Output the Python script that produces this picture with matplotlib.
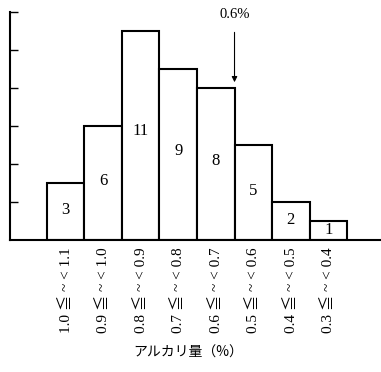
import matplotlib
matplotlib.use('Agg')
from matplotlib import pyplot as plt
import numpy as np

# Datos del histograma (número de muestras por intervalo de alcalinidad)
intervalos = ['1.0 ≦ ~ < 1.1', '0.9 ≦ ~ < 1.0', '0.8 ≦ ~ < 0.9', '0.7 ≦ ~ < 0.8',
              '0.6 ≦ ~ < 0.7', '0.5 ≦ ~ < 0.6', '0.4 ≦ ~ < 0.5', '0.3 ≦ ~ < 0.4']
frecuencias = [3, 6, 11, 9, 8, 5, 2, 1]
marca_valor = '0.6%'
marca_posicion = 4.5  # límite entre los intervalos 0.7 y 0.6
titulo_x = 'アルカリ量（%）'

plt.rcParams['font.family'] = ['Liberation Serif', 'Noto Sans CJK JP', 'DejaVu Sans']

fig = plt.figure(figsize=(3.81, 3.72), dpi=100)
ax = fig.add_axes([0.026, 0.355, 0.974, 0.613])

x = np.arange(len(frecuencias))
ax.bar(x, frecuencias, width=1.0, color='white', edgecolor='black', linewidth=1.5)

# Números dentro de cada barra
for xi, v in zip(x, frecuencias):
    ax.text(xi, v * 0.52, str(v), ha='center', va='center', fontsize=12)

# Flecha que marca el 0.6%
ax.annotate(marca_valor, xy=(marca_posicion, 8.3), xytext=(marca_posicion, 11.85),
            ha='center', va='center', fontsize=10.5, annotation_clip=False,
            arrowprops=dict(arrowstyle='-|>', color='black', lw=0.8,
                            mutation_scale=8, shrinkA=6, shrinkB=0))

ax.set_xlim(-1.48, 8.4)
ax.set_ylim(0, 12)
ax.set_yticks(np.arange(2, 13, 2))
ax.set_yticklabels([])
ax.tick_params(axis='y', direction='in', length=6, width=1)
ax.set_xticks(x)
ax.set_xticklabels(intervalos, rotation=90, fontsize=11, va='top')
ax.tick_params(axis='x', length=0, pad=5)

ax.spines['top'].set_visible(False)
ax.spines['right'].set_visible(False)
for spine in ['bottom', 'left']:
    ax.spines[spine].set_linewidth(1.5)

fig.text(0.495, 0.053, titulo_x, ha='center', va='center', fontsize=10,
         family=['Noto Sans CJK JP', 'DejaVu Sans'])

fig.savefig('out.png', dpi=100)
